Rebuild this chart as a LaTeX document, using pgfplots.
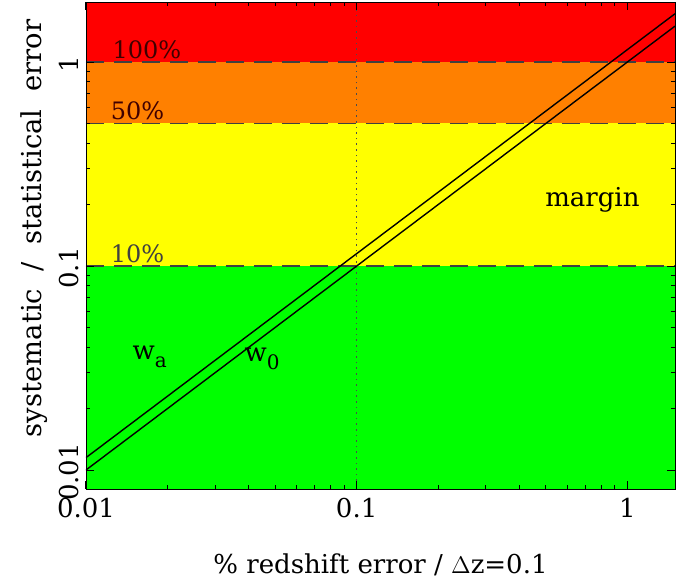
\documentclass[border=0pt]{standalone}
\usepackage{pgfplots}
\pgfplotsset{compat=1.18}
\usepackage{fontspec}
\setmainfont{DejaVu Serif}
\definecolor{bandred}{HTML}{FF0000}
\definecolor{bandorange}{HTML}{FF8000}
\definecolor{bandyellow}{HTML}{FFFF00}
\definecolor{bandgreen}{HTML}{00FF00}

\begin{document}
\begin{tikzpicture}
\begin{axis}[
  scale only axis, width=294.5pt, height=243.5pt,
  xmode=log, ymode=log,
  xmin=0.01, xmax=1.5, ymin=0.00807, ymax=1.97,
  xtick={0.01,0.1,1}, xticklabels={0.01,0.1,1},
  ytick={0.01,0.1,1}, yticklabels={0.01,0.1,1},
  tick align=inside, major tick length=4pt, minor tick length=2pt,
  tick style={black, line width=0.5pt},
  xtick pos=both, ytick pos=both,
  /pgf/number format/assume math mode=true,
  tick label style={font=\fontsize{13}{15}\selectfont},
  yticklabel style={rotate=90, anchor=south, xshift=-1pt},
  xticklabel style={yshift=-1pt},
  xlabel={\% redshift error / $\Delta$z=0.1},
  ylabel={systematic\ \ /\ \ statistical\ \ error},
  xlabel style={font=\fontsize{13}{15}\selectfont, yshift=-11pt},
  ylabel style={font=\fontsize{13.7}{15}\selectfont, at={(ticklabel cs:0.535)}, yshift=-1pt},
  axis on top,
  clip=true,
]
\addplot[fill=bandgreen, draw=none] coordinates {(0.01,0.005) (1.5,0.005) (1.5,0.1) (0.01,0.1)} -- cycle;
\addplot[fill=bandyellow, draw=none] coordinates {(0.01,0.1) (1.5,0.1) (1.5,0.5) (0.01,0.5)} -- cycle;
\addplot[fill=bandorange, draw=none] coordinates {(0.01,0.5) (1.5,0.5) (1.5,1) (0.01,1)} -- cycle;
\addplot[fill=bandred, draw=none] coordinates {(0.01,1) (1.5,1) (1.5,3) (0.01,3)} -- cycle;
% thresholds
\addplot[black!75, line width=0.8pt, dash pattern=on 9pt off 5pt] coordinates {(0.01,1) (1.5,1)};
\addplot[black!75, line width=0.8pt, dash pattern=on 9pt off 5pt] coordinates {(0.01,0.5) (1.5,0.5)};
\addplot[black!75, line width=0.8pt, dash pattern=on 9pt off 5pt] coordinates {(0.01,0.1) (1.5,0.1)};
\addplot[black!70, line width=0.8pt, dotted] coordinates {(0.1,0.005) (0.1,3)};
% w_a and w_0
\addplot[black, line width=0.7pt] coordinates {(0.01,0.0115) (1.5,1.725)};
\addplot[black, line width=0.7pt] coordinates {(0.01,0.0100) (1.5,1.500)};
\node[font=\fontsize{12}{14}\selectfont, text=black!75!red] at (axis cs:0.0168,1.15) {100\%};
\node[font=\fontsize{12}{14}\selectfont, text=black!75!red] at (axis cs:0.0155,0.575) {50\%};
\node[font=\fontsize{12}{14}\selectfont, text=black!75] at (axis cs:0.0155,0.115) {10\%};
\node[font=\fontsize{13}{15}\selectfont] at (axis cs:0.743,0.211) {margin};
\node[font=\fontsize{13}{15}\selectfont] at (axis cs:0.0172,0.036) {w\raisebox{-0.6ex}{\fontsize{10}{11}\selectfont a}};
\node[font=\fontsize{13}{15}\selectfont] at (axis cs:0.0447,0.035) {w\raisebox{-0.6ex}{\fontsize{10}{11}\selectfont 0}};
\end{axis}
\pgfresetboundingbox
\useasboundingbox (-43pt,-45pt) rectangle (295pt,244.5pt);
\end{tikzpicture}
\end{document}
